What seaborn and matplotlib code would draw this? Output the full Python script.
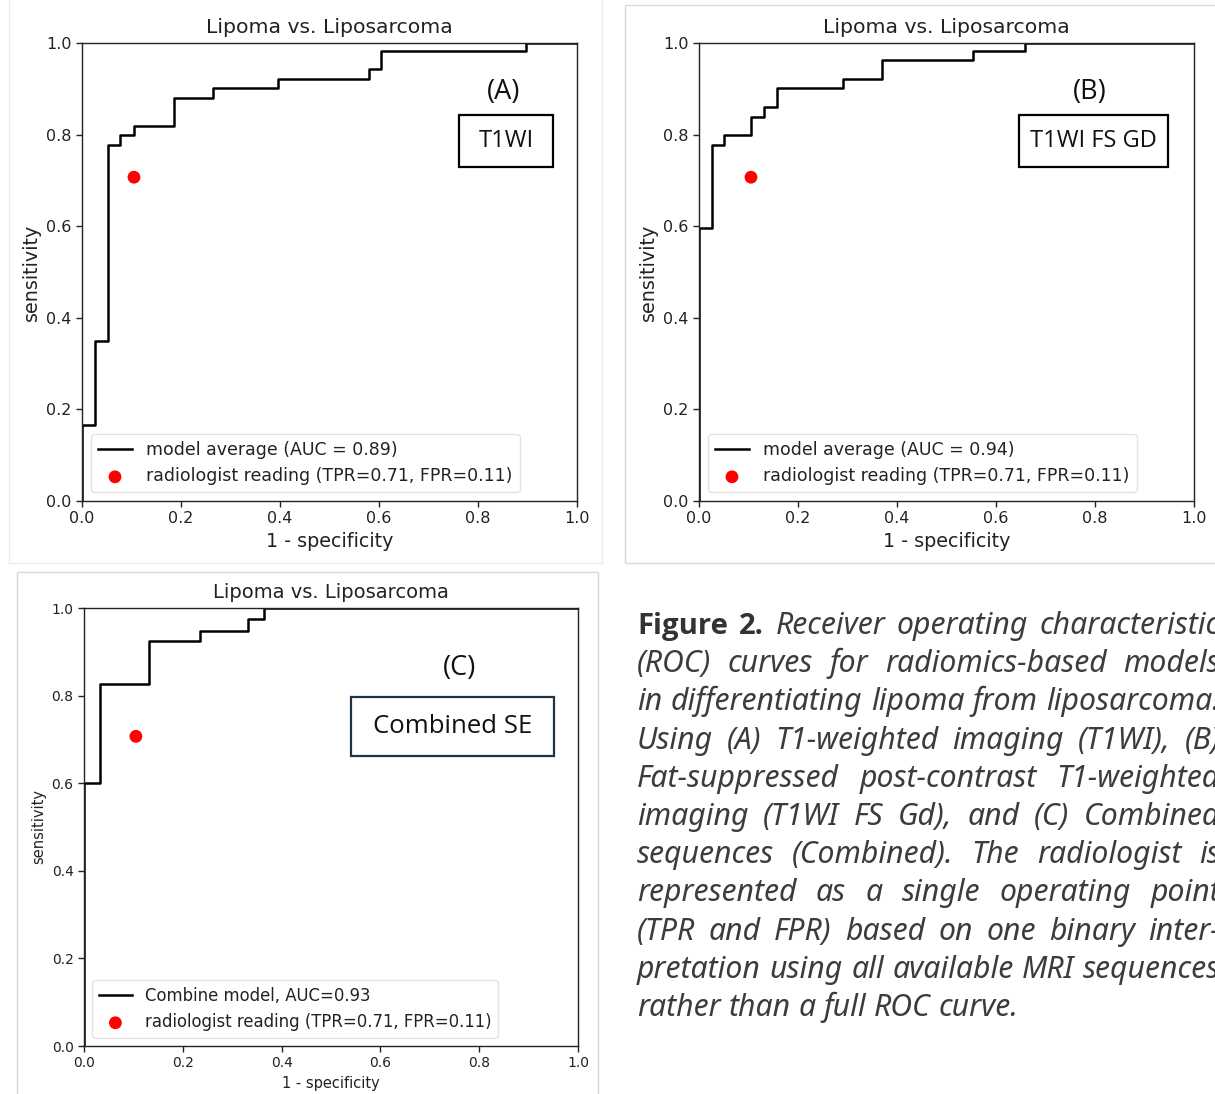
import numpy as np
import pandas as pd
import matplotlib
matplotlib.use("Agg")
import matplotlib.pyplot as plt
import seaborn as sns
from matplotlib.patches import Rectangle

# ---------------- data ----------------
a_fpr = [0.0, 0.0, 0.026, 0.052, 0.077, 0.105, 0.185, 0.264, 0.395, 0.580, 0.605, 0.896, 1.0]
a_tpr = [0.0, 0.166, 0.350, 0.777, 0.799, 0.819, 0.881, 0.901, 0.921, 0.943, 0.983, 1.0, 1.0]

b_fpr = [0.0, 0.0, 0.027, 0.051, 0.105, 0.131, 0.158, 0.290, 0.369, 0.554, 0.659, 1.0]
b_tpr = [0.0, 0.595, 0.777, 0.799, 0.839, 0.861, 0.901, 0.921, 0.963, 0.983, 1.0, 1.0]

c_fpr = [0.0, 0.0, 0.032, 0.132, 0.234, 0.332, 0.365, 1.0]
c_tpr = [0.0, 0.601, 0.826, 0.925, 0.948, 0.976, 1.0, 1.0]

rad_fpr = [0.105]
rad_tpr = [0.707]

panel_letters = ["(A)", "(B)", "(C)"]
panel_names = ["T1WI", "T1WI FS GD", "Combined SE"]
model_labels = ["model average (AUC = 0.89)", "model average (AUC = 0.94)", "Combine model, AUC=0.93"]
rad_label = "radiologist reading (TPR=0.71, FPR=0.11)"
title = "Lipoma vs. Liposarcoma"
ticks = [0.0, 0.2, 0.4, 0.6, 0.8, 1.0]

caption_lines = [
    "Figure 2. Receiver operating characteristic",
    "(ROC) curves for radiomics-based models",
    "in differentiating lipoma from liposarcoma.",
    "Using (A) T1-weighted imaging (T1WI), (B)",
    "Fat-suppressed post-contrast T1-weighted",
    "imaging (T1WI FS Gd), and (C) Combined",
    "sequences (Combined). The radiologist is",
    "represented as a single operating point",
    "(TPR and FPR) based on one binary inter-",
    "pretation using all available MRI sequences",
    "rather than a full ROC curve.",
]

# ---------------- figure ----------------
W, H = 1215, 1094
fig = plt.figure(figsize=(W / 100, H / 100), dpi=100)
fig.patch.set_facecolor("white")


def fx(px):
    return px / W


def fy(py):
    return 1 - py / H


def add_ax(l, t, r, b):
    return fig.add_axes([fx(l), fy(b), (r - l) / W, (b - t) / H])


# screenshot frames
frame_col = "#dadada"
fig.add_artist(Rectangle((fx(9), fy(563)), (602 - 9) / W, (563 + 2) / H, transform=fig.transFigure,
                         fill=False, ec="#ececec", lw=1.0))
fig.add_artist(Rectangle((fx(625), fy(563)), (1220 - 625) / W, (563 - 5) / H, transform=fig.transFigure,
                         fill=False, ec=frame_col, lw=1.0))
fig.add_artist(Rectangle((fx(17), fy(1100)), (598 - 17) / W, (1100 - 572) / H, transform=fig.transFigure,
                         fill=False, ec=frame_col, lw=1.0))

panels = [
    dict(fpr=a_fpr, tpr=a_tpr, box=(82, 43, 577, 501), tick=11.5, lab=13.8, ttl=14.7, leg=12.5,
         letter_xy=(504, 92), nbox=(459, 115, 553, 167), ncol="black", nsize=17),
    dict(fpr=b_fpr, tpr=b_tpr, box=(699, 43, 1194, 501), tick=11.5, lab=13.8, ttl=14.7, leg=12.5,
         letter_xy=(1090, 92), nbox=(1019, 115, 1168, 167), ncol="black", nsize=17),
    dict(fpr=c_fpr, tpr=c_tpr, box=(84, 608, 578, 1046), tick=10.0, lab=10.5, ttl=14.0, leg=11.9,
         letter_xy=(459, 668), nbox=(351, 697, 554, 756), ncol="#1e3446", nsize=18.5),
]

for i, p in enumerate(panels):
    l, t, r, b = p["box"]
    ax = add_ax(l, t, r, b)
    df = pd.DataFrame({"fpr": p["fpr"], "tpr": p["tpr"]})
    sns.lineplot(data=df, x="fpr", y="tpr", ax=ax, drawstyle="steps-post", sort=False,
                 estimator=None, color="black", lw=1.8, label=model_labels[i])
    sns.scatterplot(x=rad_fpr, y=rad_tpr, ax=ax, color="red", s=85, edgecolor="none",
                    label=rad_label, zorder=5)
    ax.set_xlim(0, 1)
    ax.set_ylim(0, 1)
    ax.set_xticks(ticks)
    ax.set_yticks(ticks)
    ax.tick_params(labelsize=p["tick"], length=4, width=1.0, colors="#222222")
    for s in ax.spines.values():
        s.set_linewidth(1.0)
        s.set_color("#222222")
    ax.set_xlabel("1 - specificity", fontsize=p["lab"], color="#222222")
    ax.set_ylabel("sensitivity", fontsize=p["lab"], color="#222222")
    ax.set_title(title, fontsize=p["ttl"], color="#222222", pad=7)
    leg = ax.legend(loc="lower left", fontsize=p["leg"], frameon=True, handlelength=2.0,
                    borderpad=0.4, labelspacing=0.5)
    leg.get_frame().set_edgecolor("#dddddd")
    for txt in leg.get_texts():
        txt.set_color("#222222")
    # panel letter
    lx, ly = p["letter_xy"]
    fig.text(fx(lx), fy(ly), panel_letters[i], fontsize=19.5, family="Open Sans",
             ha="center", va="center", color="#111111")
    bl, bt, br, bb = p["nbox"]
    fig.add_artist(Rectangle((fx(bl), fy(bb)), (br - bl) / W, (bb - bt) / H, transform=fig.transFigure,
                             fill=True, fc="white", ec=p["ncol"], lw=1.6, zorder=6))
    fig.text(fx((bl + br) / 2), fy((bt + bb) / 2), panel_names[i], fontsize=p["nsize"], family="Open Sans",
             ha="center", va="center", color="#111111", zorder=7)

# ---------------- caption (justified) ----------------
fig.canvas.draw()
renderer = fig.canvas.get_renderer()
cap_x0 = 637
cap_w = 583
base0 = 634
lead = 38.2
cap_color = "#3c3c3c"
cap_family = "Noto Sans"


def make_word(k, j, w, size):
    if k == 0 and j < 2:
        return fig.text(0, 0, w, fontsize=size * 0.97, family="Open Sans", weight="bold",
                        color="#333333", va="baseline", ha="left")
    return fig.text(0, 0, w, fontsize=size, family=cap_family, style="italic",
                    color=cap_color, va="baseline", ha="left")


def space_width(size):
    sp = fig.text(0, 0, "a a", fontsize=size, family=cap_family, style="italic")
    sp2 = fig.text(0, 0, "aa", fontsize=size, family=cap_family, style="italic")
    v = sp.get_window_extent(renderer).width - sp2.get_window_extent(renderer).width
    sp.remove()
    sp2.remove()
    return v


def natural_width(k, line, size):
    words = line.split(" ")
    arts = [make_word(k, j, w, size) for j, w in enumerate(words)]
    tot = sum(a.get_window_extent(renderer).width for a in arts) + space_width(size) * (len(words) - 1)
    for a in arts:
        a.remove()
    return tot


# fit font size so the widest natural line fills the column
test = 20.0
widest = max(natural_width(k, ln, test) for k, ln in enumerate(caption_lines[:-1]))
cap_size = test * (cap_w - 2) / widest

for k, line in enumerate(caption_lines):
    words = line.split(" ")
    arts = [make_word(k, j, w, cap_size) for j, w in enumerate(words)]
    widths = [a.get_window_extent(renderer).width for a in arts]
    sw = space_width(cap_size)
    if k == len(caption_lines) - 1 or len(words) == 1:
        gap = sw
    else:
        gap = (cap_w - sum(widths)) / (len(words) - 1)
    x = cap_x0
    y = base0 + lead * k
    for a, wd in zip(arts, widths):
        a.set_position((fx(x), fy(y)))
        x += wd + gap

fig.savefig("out.png", dpi=100, facecolor="white")
